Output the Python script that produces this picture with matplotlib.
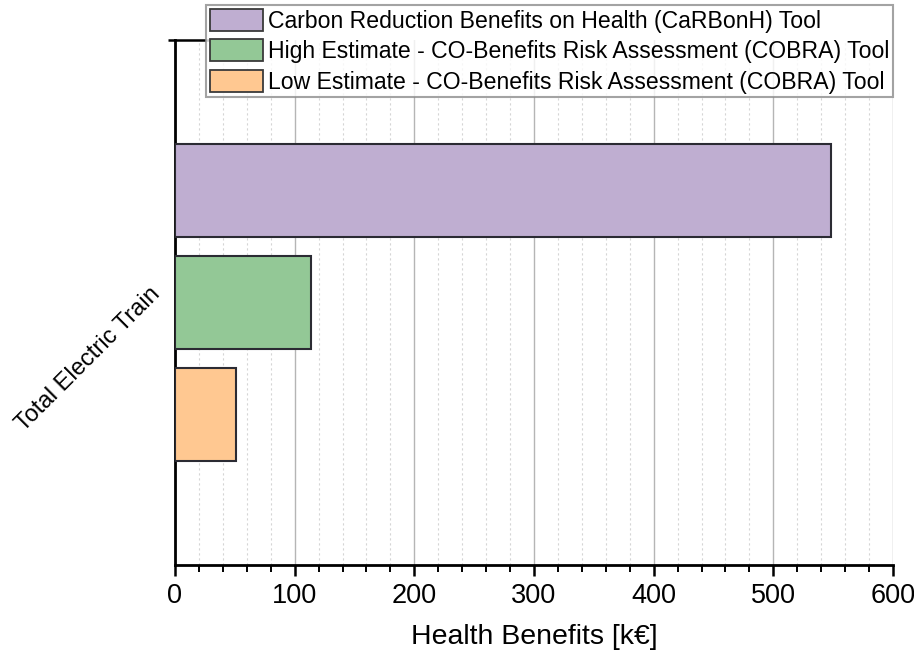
import matplotlib
matplotlib.use("Agg")
import matplotlib.pyplot as plt
from matplotlib.patches import Patch
from matplotlib.ticker import MultipleLocator

plt.rcParams['font.family'] = ['Liberation Sans', 'DejaVu Sans']

category = "Total Electric Train"
series_names = [
    "Carbon Reduction Benefits on Health (CaRBonH) Tool",
    "High Estimate - CO-Benefits Risk Assessment (COBRA) Tool",
    "Low Estimate - CO-Benefits Risk Assessment (COBRA) Tool",
]
series_values = [548, 114, 51]
series_colors = ["#BFAED1", "#93C896", "#FFC891"]
x_ticks = [0, 100, 200, 300, 400, 500, 600]

fig = plt.figure(figsize=(9.14, 6.54), dpi=100)
W, H = 914, 654
ax = fig.add_axes([175 / W, 1 - 565 / H, (893 - 175) / W, (565 - 40) / H])

offsets = [0.213, 0.0, -0.213]
bar_h = 0.178
for name, val, col, off in zip(series_names, series_values, series_colors, offsets):
    ax.barh(off, val, height=bar_h, color=col, edgecolor="#2b2b33",
            linewidth=1.5, zorder=3, label=name)

ax.set_xlim(0, 600)
ax.set_ylim(-0.5, 0.5)
ax.set_xticks(x_ticks)
ax.xaxis.set_minor_locator(MultipleLocator(20))
ax.grid(axis="x", which="major", color="#b5b5b5", linewidth=1.0, zorder=0)
ax.grid(axis="x", which="minor", color="#d5d5d5", linewidth=0.8,
        linestyle=(0, (2, 2.5)), zorder=0)

for s in ["top", "right"]:
    ax.spines[s].set_visible(False)
for s in ["left", "bottom"]:
    ax.spines[s].set_linewidth(2.0)
    ax.spines[s].set_capstyle("projecting")

ax.tick_params(axis="x", which="major", direction="out", length=8, width=1.8,
               labelsize=19.5, pad=5)
ax.tick_params(axis="x", which="minor", direction="out", length=5, width=1.4)

# top cap of the category axis
ax.set_yticks([0.5])
ax.set_yticklabels([""])
ax.tick_params(axis="y", which="major", direction="out", length=5, width=1.8)
ax.axhline(0.5, xmin=0, xmax=0.06, color="black", linewidth=1.8, zorder=2,
           clip_on=False)

# category label, slanted, to the left of the bar group
ax.text(-10 / 718, 0.537, category, transform=ax.transAxes, rotation=45,
        ha="right", va="top", fontsize=17)

ax.set_xlabel("Health Benefits [k€]", fontsize=20.5, labelpad=11)

handles = [Patch(facecolor=c, edgecolor="#3a3a3a", linewidth=1.3) for c in series_colors]
leg = fig.legend(handles, series_names, loc="upper right",
                 bbox_to_anchor=(893 / W, 1 - 5 / H), fontsize=16.6,
                 frameon=True, fancybox=False, edgecolor="#8c8c8c",
                 handlelength=2.3, handleheight=1.1, handletextpad=0.2,
                 labelspacing=0.28, borderpad=0.17, borderaxespad=0.0)
leg.get_frame().set_linewidth(1.5)
leg.set_zorder(10)

fig.savefig("out.png", dpi=100)
